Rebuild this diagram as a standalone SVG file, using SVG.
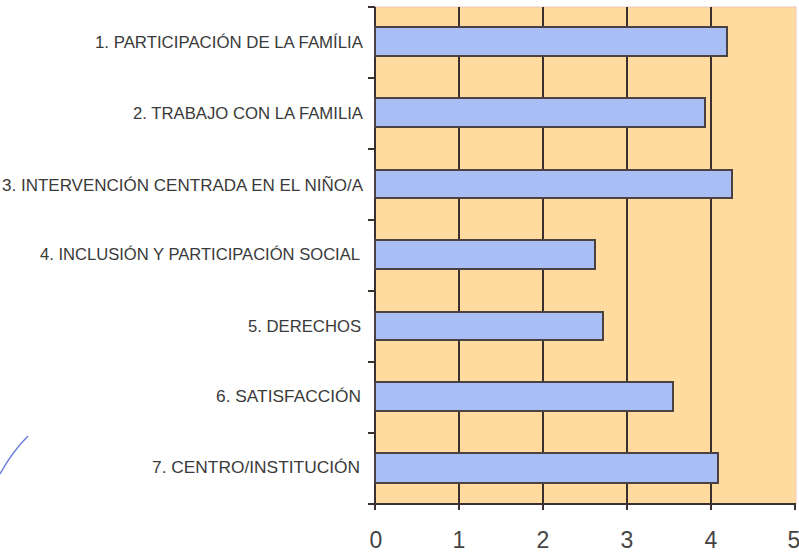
<svg xmlns="http://www.w3.org/2000/svg" width="799" height="552" viewBox="0 0 799 552">
<style>
.lbl{font-family:"Liberation Sans",Arial,sans-serif;font-size:17px;fill:#3a3a3a;text-anchor:end}
.tick{font-family:"Liberation Sans",Arial,sans-serif;font-size:23px;fill:#444;text-anchor:middle}
.grid{stroke:#3b3030;stroke-width:2;fill:none}
.bar{fill:#A9BEF4;stroke:#4a4242;stroke-width:2}
</style>
<rect width="799" height="552" fill="#fff"/>
<g id="plot">
<rect x="375" y="7" width="421" height="497" fill="#FFDBA0" stroke="#EEC8BC" stroke-width="1"/>
</g>
<g id="grid">
<path class="grid" d="M459,7V510M543,7V510M627,7V510M711,7V510M795,504V510M375,7V510M368,504H796"/>
<path class="grid" d="M368,7H375M368,78H375M368,149H375M368,220H375M368,291H375M368,362H375M368,433H375"/>
</g>
<g id="bars">
<rect id="bar1" class="bar" x="375" y="27" width="352" height="29"/>
<rect id="bar2" class="bar" x="375" y="98" width="330" height="29"/>
<rect id="bar3" class="bar" x="375" y="170" width="357" height="28"/>
<rect id="bar4" class="bar" x="375" y="240" width="220" height="29"/>
<rect id="bar5" class="bar" x="375" y="312" width="228" height="28"/>
<rect id="bar6" class="bar" x="375" y="382" width="298" height="29"/>
<rect id="bar7" class="bar" x="375" y="453" width="343" height="30"/>
</g>
<g id="labels">
<text class="lbl" x="363" y="48" textLength="268" lengthAdjust="spacingAndGlyphs">1. PARTICIPACIÓN DE LA FAMÍLIA</text>
<text class="lbl" x="363" y="119" textLength="230" lengthAdjust="spacingAndGlyphs">2. TRABAJO CON LA FAMILIA</text>
<text class="lbl" x="363" y="191" textLength="361" lengthAdjust="spacingAndGlyphs">3. INTERVENCIÓN CENTRADA EN EL NIÑO/A</text>
<text class="lbl" x="360" y="260" textLength="320" lengthAdjust="spacingAndGlyphs">4. INCLUSIÓN Y PARTICIPACIÓN SOCIAL</text>
<text class="lbl" x="361" y="332" textLength="113" lengthAdjust="spacingAndGlyphs">5. DERECHOS</text>
<text class="lbl" x="361" y="402" textLength="145" lengthAdjust="spacingAndGlyphs">6. SATISFACCIÓN</text>
<text class="lbl" x="360" y="473" textLength="208" lengthAdjust="spacingAndGlyphs">7. CENTRO/INSTITUCIÓN</text>
</g>
<g id="axis-labels">
<text class="tick" x="376" y="548">0</text>
<text class="tick" x="459" y="548">1</text>
<text class="tick" x="543" y="548">2</text>
<text class="tick" x="627" y="548">3</text>
<text class="tick" x="711" y="548">4</text>
<text class="tick" x="794" y="548">5</text>
</g>
<path d="M28,436 Q12,452 0,474" fill="none" stroke="#6b7fe0" stroke-width="1.5"/>
</svg>
